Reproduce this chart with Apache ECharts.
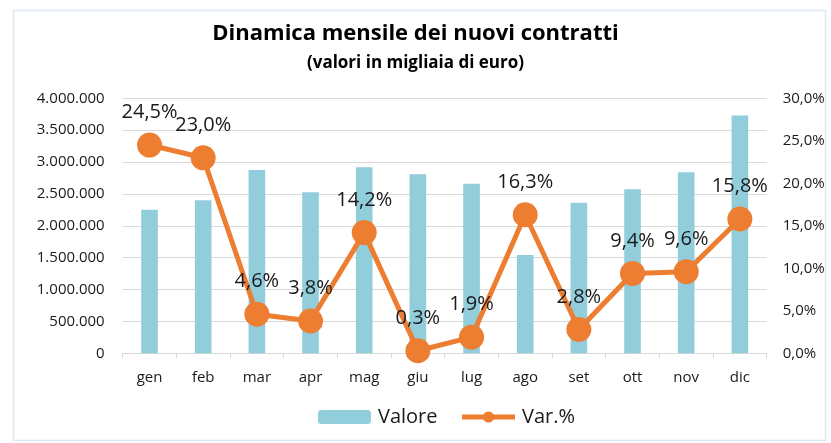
<!DOCTYPE html>
<html>
<head>
<meta charset="utf-8">
<script src="https://cdn.jsdelivr.net/npm/echarts@6/dist/echarts.min.js"></script>
<style>
html,body{margin:0;padding:0;background:#fff;}
#c{width:831px;height:443px;}
</style>
</head>
<body>
<div id="c"></div>
<script>
const categories = ['gen','feb','mar','apr','mag','giu','lug','ago','set','ott','nov','dic'];
const valore = [2250000, 2400000, 2875000, 2525000, 2920000, 2810000, 2660000, 1540000, 2360000, 2575000, 2840000, 3730000];
const varPct = [24.5, 23.0, 4.6, 3.8, 14.2, 0.3, 1.9, 16.3, 2.8, 9.4, 9.6, 15.8];

const FONT = 'Open Sans';
function fmtThousands(v){
  return String(Math.round(v)).replace(/\B(?=(\d{3})+(?!\d))/g, '.');
}
function fmtPct(v){
  return v.toFixed(1).replace('.', ',') + '%';
}

const chart = echarts.init(document.getElementById('c'), null, {renderer:'canvas'});
chart.setOption({
  backgroundColor:'#ffffff',
  animation:false,
  textStyle:{fontFamily:FONT},
  title:[
    {text:'Dinamica mensile dei nuovi contratti', left:'center', top:18,
     textStyle:{fontFamily:FONT, fontSize:22, fontWeight:'bold', color:'#000'}},
    {text:'(valori in migliaia di euro)', left:'center', top:50,
     textStyle:{fontFamily:FONT, fontSize:17, fontWeight:'bold', color:'#000'}}
  ],
  graphic:[{type:'rect', shape:{x:13.5, y:10.5, width:812, height:430},
    style:{fill:'none', stroke:'#DCE9F5', lineWidth:1.5}, silent:true}],
  legend:{
    bottom:11, left:313, itemGap:22, itemWidth:53, itemHeight:14,
    textStyle:{fontFamily:FONT, fontSize:20, color:'#1a1a1a', padding:[0,0,0,2]},
    data:[{name:'Valore'},{name:'Var.%', lineStyle:{width:5}}]
  },
  grid:{left:122.7, right:64.3, top:98.3, bottom:89.7, containLabel:false},
  xAxis:{
    type:'category', data:categories,
    axisLine:{lineStyle:{color:'#D9D9D9', width:1}},
    axisTick:{show:true, length:5, lineStyle:{color:'#D9D9D9'}},
    axisLabel:{fontFamily:FONT, fontSize:15, color:'#1a1a1a', margin:17}
  },
  yAxis:[
    {type:'value', min:0, max:4000000, interval:500000,
     axisLine:{show:false}, axisTick:{show:false},
     splitLine:{lineStyle:{color:'#D9D9D9', width:1}},
     axisLabel:{fontFamily:FONT, fontSize:15, color:'#1a1a1a', margin:18, formatter:fmtThousands}},
    {type:'value', min:0, max:30, interval:5,
     axisLine:{show:false}, axisTick:{show:false}, splitLine:{show:false},
     axisLabel:{fontFamily:FONT, fontSize:15, color:'#1a1a1a', margin:16, formatter:fmtPct}}
  ],
  series:[
    {name:'Valore', type:'bar', data:valore, barWidth:'31%', yAxisIndex:0,
     itemStyle:{color:'#92CDDC'}},
    {name:'Var.%', type:'line', data:varPct, yAxisIndex:1,
     symbol:'circle', symbolSize:25,
     lineStyle:{color:'#ED7D31', width:5},
     itemStyle:{color:'#ED7D31'},
     label:{show:true, position:'top', distance:10, formatter:p=>fmtPct(p.value),
       fontFamily:FONT, fontSize:20, color:'#1a1a1a'}}
  ]
});
</script>
</body>
</html>
